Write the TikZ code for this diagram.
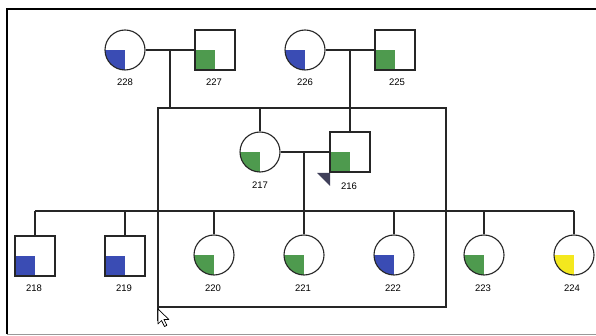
\documentclass[tikz,border=0pt]{standalone}
\usepackage{fontspec}
\setmainfont{Liberation Sans}
\begin{document}
\begin{tikzpicture}[x=1pt,y=-1pt,
  line/.style={draw=black!85,line width=1.1pt},
  fem/.style={circle,draw=black!85,line width=1.1pt,minimum size=40pt,inner sep=0pt},
  mal/.style={rectangle,draw=black!85,line width=1.1pt,minimum size=40pt,inner sep=0pt},
  lab/.style={font=\fontsize{9.5}{11}\selectfont,inner sep=0pt}]
\definecolor{qblue}{HTML}{3A4CB4}
\definecolor{qgreen}{HTML}{4E9A4E}
\definecolor{qyellow}{HTML}{F4E81E}
\definecolor{tri}{HTML}{40405A}
\useasboundingbox (0,0) rectangle (596,336);
\fill[white] (0,0) rectangle (596,336);
% frame
\draw[line width=1.6pt] (7,334) -- (7,9) -- (596,9);
\draw[black!40,line width=1pt] (7,334.5) -- (596,334.5);

% quadrant fill helpers
\newcommand{\cquad}[2]{\begin{scope}\clip (#1) circle (20);\fill[#2] (#1) rectangle ++(-20,20);\end{scope}}
\newcommand{\squad}[2]{\fill[#2] (#1) rectangle ++(-20,20);}

% coordinates
\coordinate (p228) at (125,50);
\coordinate (p227) at (215,50);
\coordinate (p226) at (305,50);
\coordinate (p225) at (395,50);
\coordinate (p217) at (260,152);
\coordinate (p216) at (350,152);
\coordinate (p218) at (35,256);
\coordinate (p219) at (125,256);
\coordinate (p220) at (214,255);
\coordinate (p221) at (304,255);
\coordinate (p222) at (394,255);
\coordinate (p223) at (484,255);
\coordinate (p224) at (574,255);

% fills
\cquad{p228}{qblue}
\squad{p227}{qgreen}
\cquad{p226}{qblue}
\squad{p225}{qgreen}
\cquad{p217}{qgreen}
\squad{p216}{qgreen}
\squad{p218}{qblue}
\squad{p219}{qblue}
\cquad{p220}{qgreen}
\cquad{p221}{qgreen}
\cquad{p222}{qblue}
\cquad{p223}{qgreen}
\cquad{p224}{qyellow}

% individuals
\node[fem] (i228) at (p228) {};
\node[mal] (i227) at (p227) {};
\node[fem] (i226) at (p226) {};
\node[mal] (i225) at (p225) {};
\node[fem] (i217) at (p217) {};
\node[mal] (i216) at (p216) {};
\node[mal] (i218) at (p218) {};
\node[mal] (i219) at (p219) {};
\node[fem] (i220) at (p220) {};
\node[fem] (i221) at (p221) {};
\node[fem] (i222) at (p222) {};
\node[fem] (i223) at (p223) {};
\node[fem] (i224) at (p224) {};

% labels
\node[lab] (l228) at (125,82) {228};
\node[lab] (l227) at (214,82) {227};
\node[lab] (l226) at (305,82) {226};
\node[lab] (l225) at (397,82) {225};
\node[lab] (l217) at (260,185) {217};
\node[lab] (l216) at (349,186) {216};
\node[lab] (l218) at (34,288) {218};
\node[lab] (l219) at (124,288) {219};
\node[lab] (l220) at (213,288) {220};
\node[lab] (l221) at (303,288) {221};
\node[lab] (l222) at (393,288) {222};
\node[lab] (l223) at (483,288) {223};
\node[lab] (l224) at (572,288) {224};

% proband marker
\fill[tri] (317,173) -- (330,173) -- (330,186) -- cycle;

% connectors
\coordinate (m1) at (170,50);
\coordinate (m2) at (350,50);
\coordinate (m3) at (304,152);
\coordinate (b1) at (170,108);
\coordinate (r1) at (158,108);
\coordinate (r2) at (446,108);
\coordinate (r3) at (446,307);
\coordinate (r4) at (158,307);
\coordinate (r5) at (158,321);
\coordinate (t217) at (260,108);
\coordinate (s3) at (304,211);
\coordinate (sL) at (35,211);
\coordinate (sR) at (574,211);

\draw[line] (i228.east) -- (i227.west);
\draw[line] (i226.east) -- (i225.west);
\draw[line] (m1) -- (b1);
\draw[line] (m2) -- (i216.north);
\draw[line] (r5) -- (r1) -- (r2) -- (r3) -- (r4);
\draw[line] (t217) -- (i217.north);
\draw[line] (i217.east) -- (i216.west);
\draw[line] (m3) -- (s3);
\draw[line] (sL) -- (sR);
\foreach \c in {218,219,220,221,222,223,224}{
  \draw[line] (i\c.north |- sL) -- (i\c.north);
}

% mouse pointer
\draw[fill=white,line width=0.7pt,line join=round] (158,309) -- ++(0,15) -- ++(3.5,-3.5) -- ++(3,6) -- ++(2.4,-1.2) -- ++(-3,-5.8) -- ++(5,0) -- cycle;
\end{tikzpicture}
\end{document}
